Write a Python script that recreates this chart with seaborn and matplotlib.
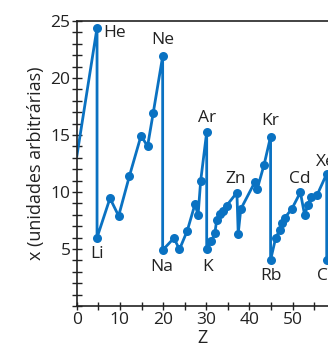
import matplotlib
matplotlib.use("Agg")
import matplotlib.pyplot as plt
import seaborn as sns
import pandas as pd
from matplotlib.ticker import MultipleLocator

# values (Z position as drawn, x in arbitrary units)
z_vals = [0, 4.7, 4.7, 7.7, 9.7, 12.2, 14.9, 16.4, 17.7, 19.9, 19.9, 22.5, 23.8,
          25.6, 27.4, 28.1, 28.7, 30.1, 30.1, 31.2, 32.0, 32.4, 33.2, 33.8, 34.7,
          37.1, 37.4, 38.0, 41.3, 41.8, 43.4, 44.9, 44.9, 46.1, 47.1, 47.6, 48.2,
          49.8, 51.8, 52.8, 53.5, 54.3, 55.7, 57.9, 57.9]
x_vals = [13.1, 24.4, 6.0, 9.45, 7.9, 11.4, 14.95, 14.0, 16.9, 21.9, 4.9, 5.95, 4.97,
          6.6, 8.95, 7.95, 10.95, 15.25, 4.97, 5.7, 6.4, 7.5, 8.05, 8.35, 8.8,
          9.95, 6.35, 8.5, 10.9, 10.25, 12.4, 14.85, 4.04, 6.0, 6.7, 7.25, 7.75,
          8.5, 9.97, 7.95, 8.85, 9.6, 9.75, 11.6, 4.04]

elements = ["He", "Ne", "Li", "Na", "Ar", "K", "Zn", "Kr", "Rb", "Cd", "Xe", "Cs"]
label_z = [6.2, 20.0, 4.6, 19.7, 30.1, 30.3, 36.8, 44.9, 44.9, 51.7, 57.6, 57.9]
label_x = [23.9, 23.3, 4.55, 3.4, 16.5, 3.45, 11.1, 16.25, 2.6, 11.1, 12.6, 2.6]

sns.set_style("ticks")
plt.rcParams["font.family"] = ["Open Sans", "DejaVu Sans"]

blue = "#0A72C2"
df = pd.DataFrame({"Z": z_vals, "x": x_vals})

fig = plt.figure(figsize=(3.28, 3.55), dpi=100)
ax = fig.add_axes([0.234, 0.138, 0.766, 0.803])

sns.lineplot(data=df, x="Z", y="x", sort=False, estimator=None, ax=ax,
             color=blue, linewidth=2.0, marker="o", markersize=6.5,
             markeredgewidth=0, markevery=list(range(1, len(df))))

for name, zx, xv in zip(elements, label_z, label_x):
    ha = "left" if name == "He" else "center"
    ax.text(zx, xv, name, ha=ha, va="center", fontsize=12.5, color="#222222")

ax.set_xlim(0, 58.2)
ax.set_ylim(0, 25)
ax.xaxis.set_major_locator(MultipleLocator(10))
ax.xaxis.set_minor_locator(MultipleLocator(5))
ax.yaxis.set_major_locator(MultipleLocator(5))
ax.yaxis.set_minor_locator(MultipleLocator(1))
ax.set_yticks([5, 10, 15, 20, 25])
ax.tick_params(which="both", direction="inout", length=6, width=1, colors="#222222",
               labelsize=12.5, pad=1)
ax.tick_params(axis="y", which="both", length=7)
ax.spines["right"].set_visible(False)
for s in ["left", "bottom", "top"]:
    ax.spines[s].set_linewidth(1.2)
    ax.spines[s].set_color("#222222")

ax.set_xlabel("Z", fontsize=13, color="#222222", labelpad=1)
ax.set_ylabel("x (unidades arbitrárias)", fontsize=13, color="#222222", labelpad=4)

fig.savefig("out.png", dpi=100)
